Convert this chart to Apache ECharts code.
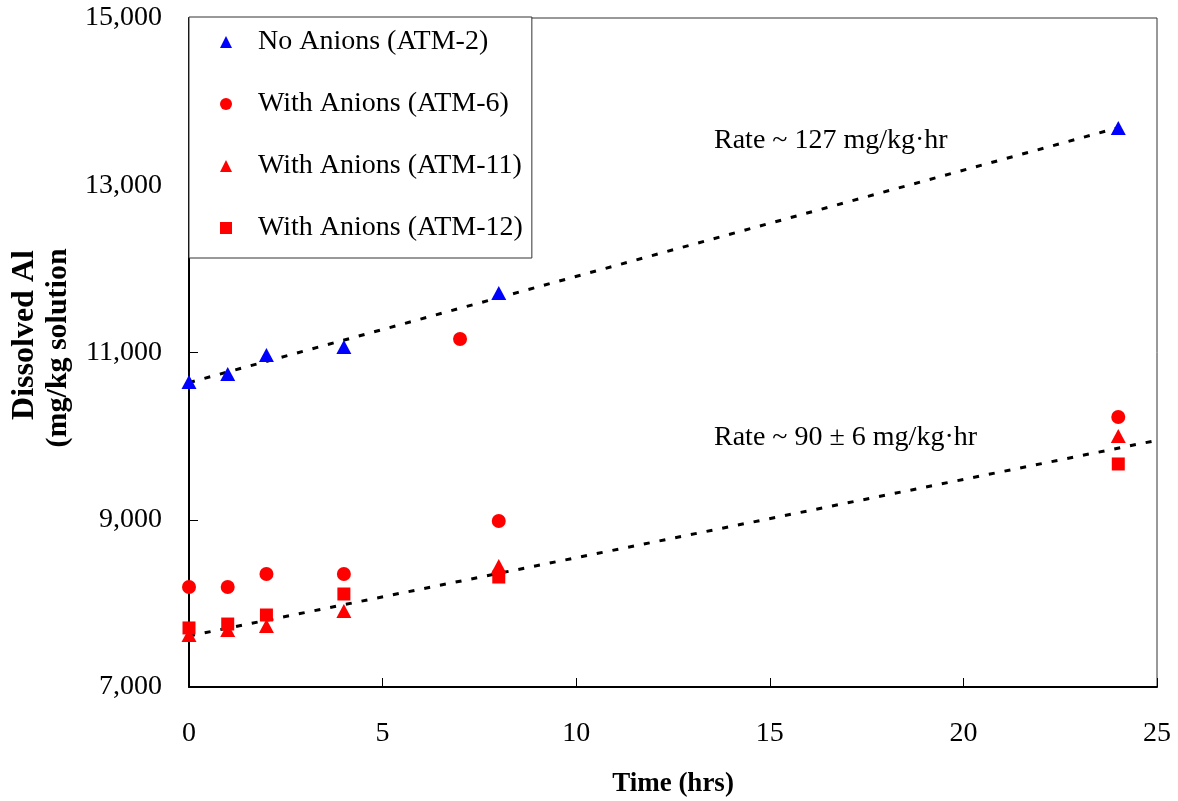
<!DOCTYPE html>
<html>
<head>
<meta charset="utf-8">
<script src="https://cdn.jsdelivr.net/npm/echarts@6/dist/echarts.min.js"></script>
<style>html,body{margin:0;padding:0;background:#fff;}#c{width:1178px;height:801px;}</style>
</head>
<body>
<div id="c"></div>
<script>
// Time (hrs)
const timesMain = [0, 1, 2, 4, 8, 24];
const timesATM6 = [0, 1, 2, 4, 7, 8, 24];
// Dissolved Al (mg/kg solution)
const atm2 = [10647, 10743, 10970, 11066, 11711, 13685];
const atm6 = [8196, 8196, 8351, 8351, 11161, 8985, 10229];
const atm11 = [7622, 7682, 7729, 7909, 8447, 10001];
const atm12 = [7706, 7753, 7861, 8112, 8315, 9667];
// Trend lines [time, value]
const trendNoAnions = [[0, 10640], [24, 13688]];
const trendAnions = [[0, 7610], [25, 9950]];
const seriesNames = ['No Anions (ATM-2)', 'With Anions (ATM-6)', 'With Anions (ATM-11)', 'With Anions (ATM-12)'];
const rateLabels = ['Rate ~ 127 mg/kg\u00b7hr', 'Rate ~ 90 \u00b1 6 mg/kg\u00b7hr'];
const yTitleLines = ['Dissolved Al', '(mg/kg solution'];

const pair = (xs, ys) => xs.map((x, i) => [x, ys[i]]);
const FONT = '"Liberation Serif", "Times New Roman", serif';

const chart = echarts.init(document.getElementById('c'));
chart.setOption({
  backgroundColor: '#fff',
  animation: false,
  textStyle: { fontFamily: FONT },
  grid: { left: 189, right: 21, top: 18, bottom: 114, show: true, borderColor: '#333', borderWidth: 1,
    backgroundColor: 'transparent', containLabel: false, outerBoundsMode: 'none' },
  xAxis: {
    type: 'value', min: 0, max: 25, interval: 5,
    axisLine: { show: true, lineStyle: { color: '#000', width: 2 } },
    axisTick: { show: true, inside: true, length: 9, lineStyle: { color: '#000', width: 1 } },
    axisLabel: { margin: 33, fontSize: 28, color: '#000', fontFamily: FONT },
    splitLine: { show: false },
    name: 'Time (hrs)', nameLocation: 'middle', nameGap: 84,
    nameTextStyle: { fontSize: 27, fontWeight: 'bold', color: '#000', fontFamily: FONT }
  },
  yAxis: {
    type: 'value', min: 7000, max: 15000, interval: 2000,
    axisLine: { show: true, lineStyle: { color: '#000', width: 2 } },
    axisTick: { show: true, inside: true, length: 9, lineStyle: { color: '#000', width: 1 } },
    axisLabel: { margin: 27, fontSize: 28, color: '#000', fontFamily: FONT,
      formatter: v => v.toLocaleString('en-US') },
    splitLine: { show: false }
  },
  legend: {
    data: seriesNames,
    orient: 'vertical', left: 189, top: 17,
    padding: [9, 9, 14, 31],
    itemGap: 30, itemWidth: 12, itemHeight: 12,
    backgroundColor: '#fff', borderColor: '#333', borderWidth: 1,
    textStyle: { fontSize: 28, color: '#000', fontFamily: FONT, lineHeight: 32, padding: [0, 0, 0, 21] }
  },
  series: [
    { name: 'trend1', type: 'line', data: trendNoAnions, symbol: 'none', silent: true,
      lineStyle: { color: '#000', width: 3, type: [6, 10] }, z: 1 },
    { name: 'trend2', type: 'line', data: trendAnions, symbol: 'none', silent: true,
      lineStyle: { color: '#000', width: 3, type: [6, 10] }, z: 1 },
    { name: seriesNames[0], type: 'scatter', data: pair(timesMain, atm2), symbol: 'triangle', symbolSize: [15, 14], itemStyle: { color: '#0000ff', opacity: 1 }, z: 3 },
    { name: seriesNames[1], type: 'scatter', data: pair(timesATM6, atm6), symbol: 'circle', symbolSize: 14, itemStyle: { color: '#ff0000', opacity: 1 }, z: 3 },
    { name: seriesNames[2], type: 'scatter', data: pair(timesMain, atm11), symbol: 'triangle', symbolSize: [15, 14], itemStyle: { color: '#ff0000', opacity: 1 }, z: 3 },
    { name: seriesNames[3], type: 'scatter', data: pair(timesMain, atm12), symbol: 'rect', symbolSize: 13, itemStyle: { color: '#ff0000', opacity: 1 }, z: 3 }
  ],
  graphic: [
    { type: 'text', left: 714, top: 127, style: { text: rateLabels[0], fontSize: 28, fontFamily: FONT, fill: '#000' } },
    { type: 'text', left: 714, top: 424, style: { text: rateLabels[1], fontSize: 28, fontFamily: FONT, fill: '#000' } },
    { type: 'text', x: 25, y: 335, rotation: Math.PI / 2,
      style: { text: yTitleLines[0], fontSize: 32, fontWeight: 'bold', fontFamily: FONT, fill: '#000', align: 'center', verticalAlign: 'middle' } },
    { type: 'text', x: 58, y: 348, rotation: Math.PI / 2,
      style: { text: yTitleLines[1], fontSize: 30, fontWeight: 'bold', fontFamily: FONT, fill: '#000', align: 'center', verticalAlign: 'middle' } }
  ]
});
</script>
</body>
</html>
